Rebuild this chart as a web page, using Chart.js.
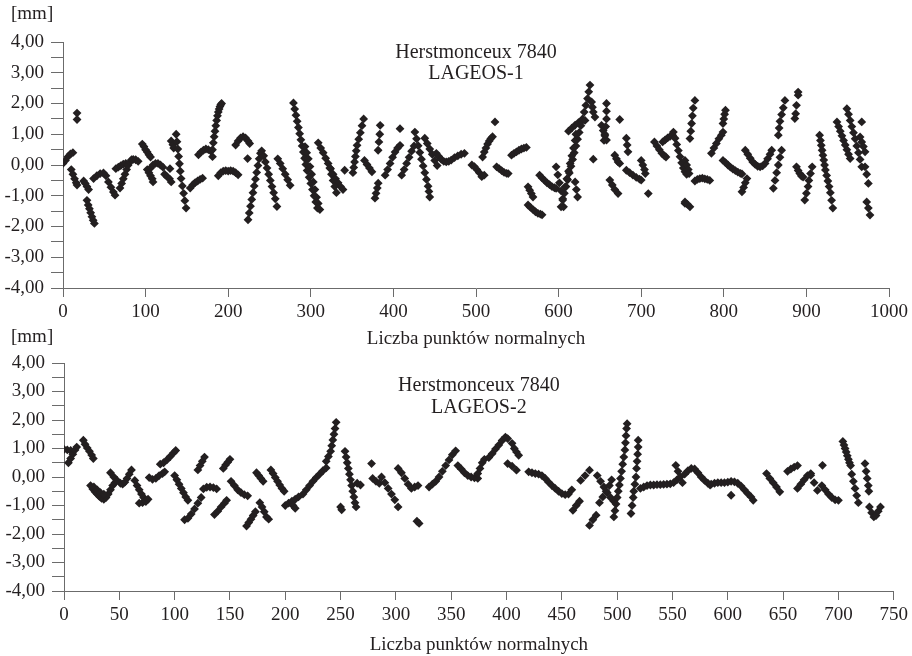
<!DOCTYPE html>
<html>
<head>
<meta charset="utf-8">
<script src="https://cdn.jsdelivr.net/npm/chart.js@4.4.1/dist/chart.umd.min.js"></script>
<style>
  body { margin: 0; background: #fff; }
  #wrap { position: relative; width: 912px; height: 656px; }
  canvas { position: absolute; left: 0; }
  #top { top: 0; }
  #bottom { top: 318px; }
</style>
</head>
<body>
<div id="wrap">
  <canvas id="top" width="912" height="352"></canvas>
  <canvas id="bottom" width="912" height="338"></canvas>
</div>
<script>
// residuals [mm] against normal point number
const lageos1 = [
  [0,0.05],[3,0.15],[6,0.27],[9,0.36],[12,0.4],
  [10,-0.15],[12,-0.3],[14,-0.45],[16,-0.58],[17,-0.65],
  [17,1.69],[17,1.48],
  [25,-0.52],[27,-0.6],[29,-0.7],[31,-0.8],
  [29,-1.15],[30.5,-1.3],[32,-1.42],[33.5,-1.55],[35,-1.68],[36.5,-1.8],[38,-1.9],
  [37,-0.44],[41,-0.35],[45,-0.28],[49,-0.26],[52,-0.35],[55,-0.55],[58,-0.72],[61,-0.88],[63,-0.98],
  [64,-0.12],[67,-0.07],[70,-0.02],[73,0.03],[76,0.05],
  [69,-0.75],[71,-0.6],[73,-0.45],[75,-0.3],[77,-0.15],[79,0],[81,0.1],[83,0.17],
  [85,0.18],[88,0.17],[91,0.12],
  [96,0.68],[98,0.6],[100,0.5],[102,0.42],[104,0.33],[106,0.26],
  [102,-0.15],[104,-0.25],[106,-0.35],[108,-0.45],[109,-0.55],
  [106,-0.1],[109,0],[112,0.05],[115,0.05],[118,0],[121,-0.07],
  [123,-0.3],[126,-0.38],[129,-0.45],[131,-0.55],[129.5,-0.12],
  [131,0.78],[133,0.66],[134,0.55],
  [137,1.0],[138,0.76],[139,0.52],[140,0.28],[141,0.04],[142,-0.2],[143,-0.44],[144.5,-0.68],[146,-0.92],[147.5,-1.16],[149,-1.4],
  [154,-0.75],[157,-0.65],[160,-0.57],[163,-0.52],[166,-0.47],[169,-0.43],
  [164,0.33],[167,0.42],[170,0.48],[173,0.52],[176,0.5],[179,0.45],[181,0.27],
  [181,0.5],[182,0.72],[183,0.92],[184,1.1],[185,1.28],[186,1.45],[187,1.6],[188,1.72],[189,1.82],[190,1.9],[191,1.96],[192,2.0],
  [188,-0.35],[191,-0.25],[194,-0.2],[197,-0.18],[200,-0.2],[203,-0.18],[206,-0.2],[209,-0.25],[212,-0.32],
  [209,0.65],[212,0.78],[215,0.88],[218,0.92],[221,0.88],[224,0.78],[226,0.7],
  [223.5,0.21],
  [224,-1.78],[225.5,-1.56],[227,-1.34],[228.5,-1.12],[230,-0.9],[231.5,-0.68],[233,-0.46],[234.5,-0.24],[236,-0.02],[237.5,0.2],[239,0.38],[240.5,0.46],
  [243,0.3],[245,0.1],[247,-0.1],[249,-0.3],[251,-0.5],[253,-0.7],[255,-0.9],[257,-1.1],[259,-1.35],
  [260,0.2],[263,0.05],[266,-0.12],[269,-0.3],[272,-0.48],[275,-0.66],
  [279,2.02],[280.5,1.82],[282,1.62],[283.5,1.42],[285,1.22],[286.5,1.02],[288,0.82],[289.5,0.62],[291,0.42],[292.5,0.22],[294,0.02],[295.5,-0.18],
  [293,0.6],[295,0.4],[297,0.2],[299,-0.05],[301,-0.3],[303,-0.55],[305,-0.8],[307,-1.05],[309,-1.25],[311,-1.45],
  [298,-0.4],[300,-0.6],[302,-0.8],[304,-1.0],[306,-1.2],[308,-1.4],
  [309,0.72],[312,0.55],[315,0.4],[318,0.22],[321,0.05],[324,-0.12],[327,-0.3],[330,-0.45],[333,-0.58],[336,-0.7],[339,-0.8],
  [323,-0.1],[325,-0.3],[327,-0.5],[329,-0.7],[331,-0.9],
  [341,-0.17],
  [351,-0.25],[352,-0.08],[353,0.1],[354,0.28],[355,0.46],[356,0.64],[358,0.84],[360,1.05],[362,1.28],[364,1.5],
  [365,0.15],[368,0.02],[371,-0.1],[374,-0.22],
  [377.7,-1.08],[379,-0.92],[380.5,-0.75],[381.6,-0.59],
  [381.5,0.48],[382.5,0.75],[383.5,1.0],[384,1.29],
  [390,-0.33],[393,-0.15],[396,0.05],[399,0.25],[402,0.42],[405,0.55],[408,0.64],
  [408,1.18],
  [410,-0.33],[413,-0.15],[416,0.05],[419,0.25],[422,0.45],[425,0.62],
  [426,1.07],[428,0.85],[430,0.63],[432,0.41],[434,0.19],[436,-0.03],[438,-0.25],[440,-0.47],[442,-0.69],[443,-0.86],[444,-1.04],
  [438,0.87],[441,0.7],[444,0.52],[447,0.35],[450,0.15],[453,-0.02],
  [452,0.38],[455,0.28],[458,0.18],[461,0.12],[464,0.1],[467,0.12],[470,0.16],[474,0.24],[478,0.3],[482,0.35],[486,0.38],
  [495,0.0],[498,-0.05],[501,-0.15],[504,-0.25],[507,-0.38],[510,-0.33],
  [508,0.26],[510,0.42],[512,0.55],[514,0.68],[516,0.78],[518,0.86],[520,0.92],
  [523,1.4],
  [525,-0.06],[528,-0.12],[531,-0.18],[534,-0.24],[537,-0.27],[539,-0.28],
  [543,0.32],[546,0.38],[549,0.43],[552,0.48],[555,0.52],[558,0.55],[561,0.57],
  [563,-0.71],[565,-0.82],[567,-0.93],[569,-1.04],
  [563,-1.3],[566,-1.38],[569,-1.45],[572,-1.52],[575,-1.57],[578,-1.6],[580,-1.62],
  [577,-0.33],[580,-0.42],[583,-0.5],[586,-0.58],[589,-0.64],[592,-0.7],[595,-0.74],[597,-0.76],
  [597,-0.06],[599,-0.32],[601,-0.58],[603,-0.84],[605,-1.1],[606,-1.36],
  [603,-1.36],[605,-1.14],[607,-0.92],[609,-0.7],[611,-0.48],[613,-0.26],[615,-0.04],[617,0.18],[619,0.4],[621,0.62],
  [623,0.84],[625,1.06],[627,1.28],[629,1.5],[631,1.72],[633,1.94],[635,2.16],[636.5,2.38],[638,2.6],
  [608,-0.71],[610,-0.45],[612,-0.2],[614,0.05],[616,0.3],[618,0.55],[620,0.8],[621,1.0],
  [620,-0.55],[621.5,-0.8],[623,-1.04],
  [612,1.1],[616,1.2],[620,1.3],[624,1.38],[628,1.42],[632,1.45],
  [640,2.05],[641,1.88],[642,1.72],[644,1.56],
  [642,0.19],
  [652,1.29],[654,1.12],[656,0.95],[658,0.81],
  [655,0.8],[656,1.0],[657,1.25],[658,1.5],[658,1.75],[658,2.0],
  [662,-0.49],[665,-0.65],[668,-0.8],[672,-0.93],
  [668,0.32],[670,0.2],[672,0.1],[674,0.05],
  [674,1.48],
  [682,0.87],[683,0.65],[684,0.43],
  [682,-0.17],[686,-0.25],[690,-0.33],[694,-0.4],[698,-0.46],[700,-0.49],
  [700,0.15],[702,0.0],[704,-0.15],[705,-0.28],
  [708.6,-0.93],
  [716,0.75],[719,0.62],[722,0.5],[725,0.38],[728,0.3],[730,0.26],
  [726,0.75],[729,0.82],[732,0.88],[735,0.93],[738,0.97],
  [739,1.07],[741,0.87],[743,0.67],[745,0.47],[747,0.27],[749,0.07],[751,-0.1],[753,-0.22],[755,-0.3],
  [753,-1.25],
  [753,0.15],[755,0.0],[757,-0.15],[758,-0.28],
  [753,-1.2],[756,-1.28],[759,-1.36],
  [759,0.86],[760,1.1],[761,1.35],[762,1.6],[763,1.85],[765,2.1],
  [765,-0.52],[768,-0.47],[771,-0.44],[774,-0.43],[777,-0.45],[780,-0.47],[783,-0.5],
  [785,0.38],[788,0.55],[791,0.7],[794,0.85],[797,0.97],[799,1.07],
  [799,1.35],[800,1.5],[801,1.65],[802,1.78],
  [799,0.15],[802,0.08],[805,0.0],[808,-0.07],[811,-0.13],[814,-0.18],[817,-0.23],[820,-0.27],[822,-0.29],
  [822,-0.87],[824,-0.73],[826,-0.58],[828,-0.44],
  [826,0.48],[829,0.35],[832,0.22],[835,0.1],[838,0.02],[841,-0.04],[844,-0.06],[847,-0.03],[850,0.05],[853,0.2],[856,0.35],[858,0.48],
  [860,-0.76],[862,-0.5],[864,-0.25],[866,0.0],[868,0.25],[870,0.48],
  [866,0.97],[867,1.2],[868,1.42],[870,1.64],[872,1.86],[874,2.1],
  [886,1.51],[887,1.67],[888,1.94],[890,2.27],[890,2.37],
  [888,-0.06],[890,-0.18],[892,-0.28],[894,-0.36],[896,-0.39],
  [898,-1.14],[900,-0.92],[902,-0.7],[903,-0.5],[905,-0.28],[907,-0.06],
  [916,0.97],[917,0.8],[918,0.64],[919,0.48],[920,0.32],[921,0.16],[922,0.0],[923,-0.16],[924.5,-0.34],[926,-0.52],[927.5,-0.7],[929,-0.9],[930.5,-1.15],[932,-1.4],
  [937,1.4],[939,1.25],[941,1.1],[943,0.95],[945,0.8],[947,0.65],[949,0.5],[951,0.35],[953,0.21],
  [949,1.83],[951,1.65],[953,1.45],[955,1.25],[957,1.05],[959,0.85],[961,0.62],[963,0.4],[965,0.18],[967,-0.06],
  [967,1.4],
  [965,0.91],[967,0.75],[969,0.6],[971,0.43],
  [971,-0.06],[973,-0.3],[975,-0.6],
  [973,-1.2],[975,-1.4],[977,-1.63]
];

const lageos2 = [
  [0,0.97],[3,0.95],[6,0.93],
  [4,0.5],[6,0.65],[8,0.8],[10,0.95],[11.5,1.05],
  [17.5,1.29],[19,1.15],[21,1.02],[23,0.9],[25,0.77],[26.5,0.65],
  [24,-0.3],[26,-0.42],[28,-0.52],[30,-0.6],[32,-0.68],[34,-0.75],[36,-0.78],[38,-0.72],[40,-0.6],[42,-0.45],[44,-0.3],[46,-0.2],
  [27,-0.35],[30,-0.45],[33,-0.55],[36,-0.6],
  [42,0.15],[45,0.0],[48,-0.12],[51,-0.22],[53,-0.25],[55,-0.18],[57,-0.05],[59,0.1],[61,0.25],
  [64,-0.12],[66,-0.3],[68,-0.45],[70,-0.6],[72,-0.72],[74,-0.85],
  [68,-0.92],[71,-0.9],[74,-0.85],[76,-0.78],
  [77,-0.02],[80,-0.08],[83,-0.05],[86,0.05],[89,0.12],[91,0.18],
  [87,0.45],[90,0.5],[93,0.6],[96,0.72],[99,0.85],[101,0.93],
  [100,0.05],[102,-0.1],[104,-0.25],[106,-0.4],[108,-0.55],[110,-0.7],[112,-0.82],
  [109,-1.5],[112,-1.45],[115,-1.3],[118,-1.12],[121,-0.92],[124,-0.72],
  [121,0.25],[123,0.4],[125,0.55],[127,0.7],
  [126,-0.42],[129,-0.36],[132,-0.35],[135,-0.37],[138,-0.42],
  [136,-1.32],[139,-1.2],[142,-1.05],[145,-0.92],[147,-0.82],
  [144,0.3],[146,0.42],[148,0.52],[150,0.62],
  [151,-0.15],[154,-0.3],[157,-0.45],[160,-0.55],[163,-0.62],[166,-0.66],
  [165,-1.72],[167,-1.6],[169,-1.48],[171,-1.35],[173,-1.22],
  [174,0.15],[176,0.05],[178,-0.05],[180,-0.15],
  [177,-0.9],[179,-1.05],[181,-1.22],[183,-1.4],[185,-1.48],
  [187,0.25],[189,0.12],[191,-0.02],[193,-0.15],[195,-0.28],[197,-0.4],[199,-0.5],
  [200,-1.0],[203,-0.92],[206,-0.85],[209,-0.78],[212,-0.7],
  [207,-1.0],[209,-1.1],
  [216,-0.6],[219,-0.45],[222,-0.3],[225,-0.15],[228,-0.02],[231,0.1],[234,0.22],[237,0.32],
  [237,0.55],[239,0.72],[241,0.9],[242,1.1],[243,1.3],[244,1.5],[245,1.7],[246,1.92],
  [250,-1.05],[251,-1.15],
  [254,0.9],[255,0.7],[256,0.5],[257,0.3],[258,0.1],[259,-0.1],[260,-0.3],[261,-0.5],[262,-0.7],[263,-0.9],[264,-1.05],
  [265,-0.22],[268,-0.28],
  [278,0.47],
  [279,-0.05],[282,-0.15],[285,-0.22],
  [287,0.0],[290,-0.2],[293,-0.4],[296,-0.6],[299,-0.8],[302,-1.05],
  [302,0.3],[305,0.15],[308,-0.05],[311,-0.25],[314,-0.4],[317,-0.35],[320,-0.3],
  [319,-1.55],[321,-1.63],
  [330,-0.35],[333,-0.25],[336,-0.15],[339,0.0],[342,0.2],[345,0.4],[348,0.6],[351,0.78],[354,0.92],
  [356,0.4],[359,0.28],[362,0.15],[365,0.05],[368,0.0],[371,-0.03],[374,-0.05],
  [374,0.12],[376,0.3],[378,0.5],[380,0.62],
  [384,0.68],[387,0.82],[390,0.98],[393,1.12],[396,1.28],[399,1.4],[401,1.35],
  [405,1.18],[407,1.0],[409,0.88],[411,0.76],
  [401,0.47],[405,0.38],[409,0.24],
  [420,0.18],[423,0.15],[426,0.12],[429,0.1],[432,0.05],[435,-0.05],[438,-0.18],[441,-0.3],[444,-0.4],[447,-0.5],[450,-0.58],[453,-0.62],[456,-0.6],[459,-0.45],
  [460,-1.17],[463,-1.0],[466,-0.85],
  [467,-0.12],[471,0.05],[475,0.24],
  [475,-1.7],[478,-1.5],[481,-1.34],
  [482,0.05],[485,-0.15],[488,-0.35],[491,-0.55],[494,-0.72],[497,-0.85],
  [484,-0.9],[487,-0.7],[490,-0.5],[493,-0.3],[495,-0.1],
  [497,-1.4],[498,-1.18],[499,-0.95],[500,-0.72],[501,-0.5],[502,-0.28],[503,-0.05],[504,0.2],[505,0.45],[506,0.7],[507,0.95],[507.5,1.2],[508,1.45],[508.5,1.7],[509,1.87],
  [512.5,-1.28],[513.5,-1.0],[514.5,-0.72],[515,-0.5],[516,-0.25],[517,0.0],[517.5,0.3],[518,0.55],[518.5,0.8],[519,1.05],[519,1.29],
  [521,-0.4],[524,-0.35],[527,-0.3],[530,-0.28],[533,-0.28],[536,-0.27],[539,-0.27],[542,-0.26],[545,-0.25],[548,-0.24],[551,-0.2],[554,-0.1],
  [553,0.41],[555,0.2],[557,0.0],[559,-0.2],
  [561,0.1],[564,0.22],[567,0.3],[570,0.28],[573,0.15],[576,0.0],[579,-0.12],[582,-0.22],[584,-0.28],
  [585,-0.25],[588,-0.22],[591,-0.2],[594,-0.2],[597,-0.2],[600,-0.18],[603,-0.15],[606,-0.17],[609,-0.22],[612,-0.32],[615,-0.45],[618,-0.58],[621,-0.7],[623,-0.82],
  [603,-0.64],
  [635,0.12],[638,-0.05],[641,-0.2],[644,-0.35],[647,-0.52],
  [654,0.2],[657,0.28],[660,0.35],[663,0.4],
  [663,-0.4],[666,-0.25],[669,-0.1],[672,0.05],[675,0.12],
  [685.6,0.41],
  [675,0.06],[678,-0.2],[681,-0.47],
  [685,-0.3],[688,-0.45],[691,-0.6],[694,-0.72],[697,-0.8],[700,-0.82],
  [704,1.25],[705,1.12],[706,1.0],[707,0.88],[708,0.75],[709,0.62],[710,0.5],[711,0.4],
  [712,0.1],[713.5,-0.15],[715,-0.4],[716.5,-0.65],[718,-0.9],
  [724,0.47],[725,0.2],[726,-0.05],[727,-0.3],[727.5,-0.5],
  [728,-1.05],[730,-1.25],[732,-1.4],[734,-1.35],[736,-1.2],[738,-1.05]
];

const xTitle = 'Liczba punktów normalnych';
const station = 'Herstmonceux 7840';
const unitLabel = '[mm]';

const ink = '#231f20';
const axisGrey = '#6b6b6b';
const serif = '"Liberation Serif", "DejaVu Serif", serif';

// titles inside the plot and the unit above the y axis
const captionPlugin = {
  id: 'caption',
  afterDraw(chart, args, opts) {
    const ctx = chart.ctx;
    const cx = (chart.chartArea.left + chart.chartArea.right) / 2;
    ctx.save();
    ctx.fillStyle = ink;
    ctx.textBaseline = 'middle';
    ctx.textAlign = 'center';
    ctx.font = '20px ' + serif;
    opts.lines.forEach((t, i) => ctx.fillText(t, cx, opts.top + i * opts.gap));
    ctx.textAlign = 'left';
    ctx.font = '19px ' + serif;
    ctx.fillText(unitLabel, 11, opts.unitY);
    ctx.restore();
  }
};

function makeChart(id, points, sat, xMax, xStep, geo) {
  return new Chart(document.getElementById(id), {
    type: 'scatter',
    data: {
      datasets: [{
        data: points.map(([x, y]) => ({ x, y })),
        pointStyle: 'rectRot',
        pointRadius: 4.4,
        borderWidth: 0,
        backgroundColor: ink,
        borderColor: ink
      }]
    },
    options: {
      responsive: false,
      animation: false,
      events: [],
      layout: { padding: { top: geo.top, right: geo.right, bottom: 0, left: 0 } },
      plugins: {
        legend: { display: false },
        tooltip: { enabled: false },
        caption: { lines: [station, sat], top: geo.titleY, gap: geo.titleGap, unitY: geo.unitY }
      },
      scales: {
        x: {
          type: 'linear',
          min: 0,
          max: xMax,
          afterFit: s => { s.height = geo.xHeight; },
          ticks: {
            stepSize: xStep,
            autoSkip: false,
            maxRotation: 0,
            padding: 4,
            color: ink,
            font: { family: serif, size: 19 },
            callback: v => String(v)
          },
          grid: { drawOnChartArea: false, drawTicks: true, tickLength: 9, color: axisGrey },
          border: { display: true, color: axisGrey, width: 1 },
          title: {
            display: true,
            text: xTitle,
            color: ink,
            font: { family: serif, size: 19 },
            padding: { top: 0, bottom: geo.titlePad }
          }
        },
        y: {
          min: -4,
          max: 4,
          afterFit: s => { s.width = geo.left; },
          ticks: {
            stepSize: 0.5,
            autoSkip: false,
            padding: 7,
            color: ink,
            font: { family: serif, size: 19 },
            callback: v => Number.isInteger(v) ? v.toFixed(2).replace('.', ',') : ''
          },
          grid: { drawOnChartArea: false, drawTicks: true, tickLength: 12, color: axisGrey },
          border: { display: true, color: axisGrey, width: 1 }
        }
      }
    },
    plugins: [captionPlugin]
  });
}

makeChart('top', lageos1, 'LAGEOS-1', 1000, 100, {
  top: 42, right: 23, left: 63, xHeight: 64, titlePad: 2,
  titleY: 53, titleGap: 21, unitY: 14
});

makeChart('bottom', lageos2, 'LAGEOS-2', 750, 50, {
  top: 45, right: 17, left: 64, xHeight: 65, titlePad: 0,
  titleY: 68, titleGap: 22, unitY: 19
});
</script>
</body>
</html>
